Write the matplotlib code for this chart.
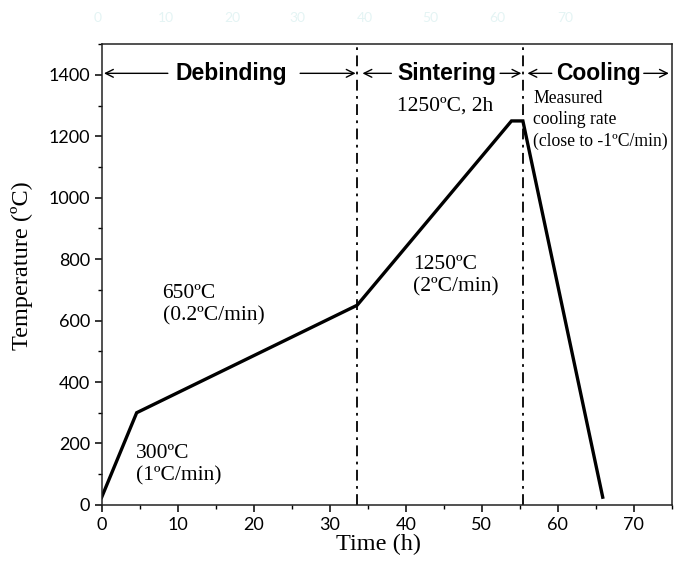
import matplotlib
matplotlib.use("Agg")
import matplotlib.pyplot as plt
from matplotlib.ticker import MultipleLocator

# heating schedule: time (h) vs furnace temperature (degC)
time_h = [0, 4.6, 33.6, 53.9, 55.4, 65.9]
temp_c = [25, 300, 650, 1250, 1250, 25]

# stage boundaries (h)
debind_end = 33.6
sinter_end = 55.4

x_ticks = [0, 10, 20, 30, 40, 50, 60, 70]
y_ticks = [0, 200, 400, 600, 800, 1000, 1200, 1400]

# faint labels left over along the top edge
top_labels = ["0", "10", "20", "30", "40", "50", "60", "70"]
top_label_px = [98, 166, 232, 297, 365, 430, 497, 565]

SERIF = "Liberation Serif"
TICK_FONT = "Lato"

fig = plt.figure(figsize=(6.78, 5.66), dpi=100)
ax = fig.add_axes([0.150, 0.108, 0.841, 0.814])

ax.plot(time_h, temp_c, color="black", lw=2.4, solid_joinstyle="miter")
ax.axvline(debind_end, color="black", lw=1.3, linestyle=(0, (6, 3, 1.5, 3)))
ax.axvline(sinter_end, color="black", lw=1.3, linestyle=(0, (6, 3, 1.5, 3)))

ax.set_xlim(0, 75)
ax.set_ylim(0, 1500)
ax.set_xticks(x_ticks)
ax.set_yticks(y_ticks)
ax.xaxis.set_minor_locator(MultipleLocator(5))
ax.yaxis.set_minor_locator(MultipleLocator(100))
ax.tick_params(which="major", direction="out", length=5, width=1.1,
               labelsize=13, top=False, right=False)
ax.tick_params(which="minor", direction="out", length=3, width=1.0,
               top=False, right=False)
for lab in ax.get_xticklabels() + ax.get_yticklabels():
    lab.set_fontfamily(TICK_FONT)
for sp in ax.spines.values():
    sp.set_linewidth(1.1)
    sp.set_color("#222222")

ax.set_xlabel("Time (h)", fontfamily=SERIF, fontsize=17.5)
ax.xaxis.set_label_coords(0.485, -0.062)
ax.set_ylabel("Temperature (ºC)", fontfamily=SERIF, fontsize=17.5)
ax.yaxis.set_label_coords(-0.121, 0.52)

# stage headers with arrows
y_head = 1405
phase_kw = dict(fontfamily="Liberation Sans", fontsize=16.5, fontweight="bold",
                ha="center", va="center")
arrow_kw = dict(arrowstyle="->", color="black", lw=1.0,
                shrinkA=0, shrinkB=0, mutation_scale=14)


def stage(label, xc, left, right):
    ax.text(xc, y_head, label, **phase_kw)
    ax.annotate("", xy=(left[1], y_head), xytext=(left[0], y_head),
                arrowprops=arrow_kw)
    ax.annotate("", xy=(right[1], y_head), xytext=(right[0], y_head),
                arrowprops=arrow_kw)


stage("Debinding", 17.0, (8.7, 0.3), (26.1, 33.4))
stage("Sintering", 45.4, (38.1, 34.3), (52.4, 55.2))
stage("Cooling", 65.4, (59.2, 56.0), (71.3, 74.6))

# segment annotations
note_kw = dict(fontfamily=SERIF, fontsize=15.5, ha="left", va="center",
               linespacing=1.2)
ax.text(4.5, 130, "300ºC\n(1ºC/min)", **note_kw)
ax.text(8.0, 652, "650ºC\n(0.2ºC/min)", **note_kw)
ax.text(41.0, 745, "1250ºC\n(2ºC/min)", **note_kw)
ax.text(38.85, 1297, "1250ºC, 2h", **note_kw)
ax.text(56.75, 1253, "Measured\ncooling rate\n(close to -1ºC/min)",
        fontfamily=SERIF, fontsize=12.7, ha="left", va="center",
        linespacing=1.3)

for lab, px in zip(top_labels, top_label_px):
    fig.text(px / 678, 1 - 18 / 566, lab, fontfamily=TICK_FONT, fontsize=10,
             color="#e4f4f4", ha="center", va="center")

fig.savefig("out.png", dpi=100, facecolor="white")
